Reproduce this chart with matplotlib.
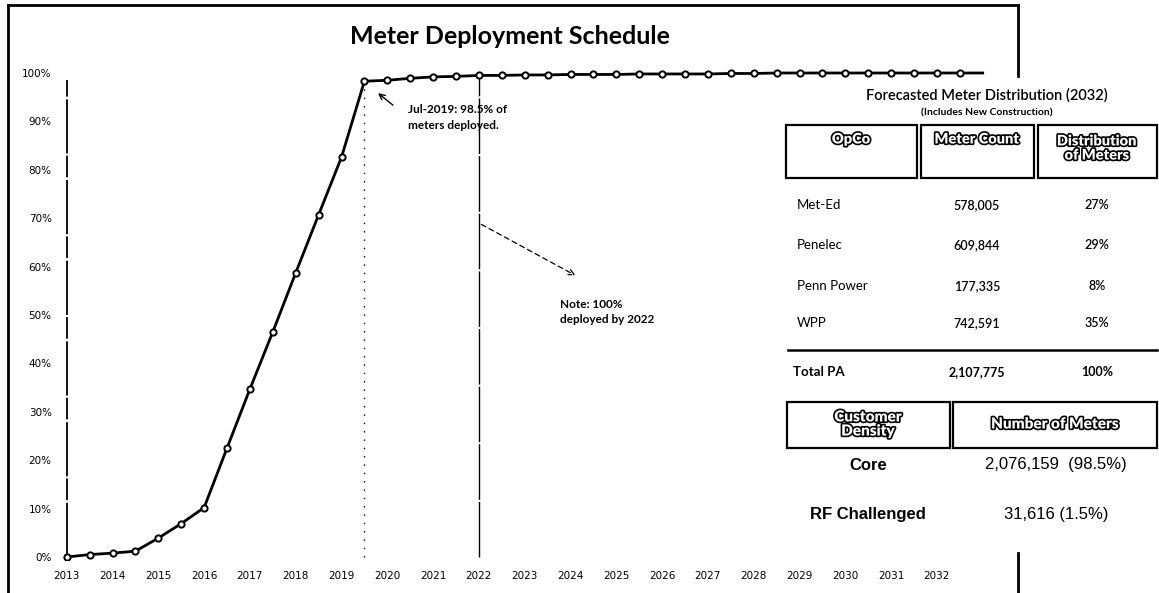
import numpy as np
import matplotlib
matplotlib.use("Agg")
import matplotlib.pyplot as plt
import matplotlib.patheffects as pe
from matplotlib.patches import Rectangle
from matplotlib.lines import Line2D

# ---------------- data ----------------
years = [2013.0, 2013.5, 2014.0, 2014.5, 2015.0, 2015.5, 2016.0, 2016.5, 2017.0, 2017.5,
         2018.0, 2018.5, 2019.0, 2019.5, 2020.0, 2020.5, 2021.0, 2021.5, 2022.0, 2022.5,
         2023.0, 2023.5, 2024.0, 2024.5, 2025.0, 2025.5, 2026.0, 2026.5, 2027.0, 2027.5,
         2028.0, 2028.5, 2029.0, 2029.5, 2030.0, 2030.5, 2031.0, 2031.5, 2032.0, 2032.5,
         2033.0]
deployed_pct = [0.0, 0.5, 0.8, 1.2, 3.9, 6.9, 10.2, 22.5, 34.7, 46.5,
                58.7, 70.7, 82.6, 98.3, 98.5, 98.9, 99.2, 99.3, 99.5, 99.5,
                99.6, 99.6, 99.7, 99.7, 99.7, 99.8, 99.8, 99.8, 99.8, 99.9,
                99.9, 100.0, 100.0, 100.0, 100.0, 100.0, 100.0, 100.0, 100.0, 100.0,
                100.0]
xtick_labels = [str(y) for y in range(2013, 2033)]
ytick_values = list(range(0, 101, 10))

opco = ["Met-Ed", "Penelec", "Penn Power", "WPP"]
meter_count = ["578,005", "609,844", "177,335", "742,591"]
distribution = ["27%", "29%", "8%", "35%"]
total_label, total_count, total_dist = "Total PA", "2,107,775", "100%"
density_cat = ["Core", "RF Challenged"]
density_meters = ["2,076,159  (98.5%)", "31,616 (1.5%)"]

# ---------------- figure ----------------
W, H = 1159, 593
fig = plt.figure(figsize=(W / 100, H / 100), dpi=100)
fig.patch.set_facecolor("white")

def fx(px):
    return px / W

def fy(py):
    return 1 - py / H

CAL = ["Lato", "DejaVu Sans"]
ARI = ["Liberation Sans", "DejaVu Sans"]

# axes: px 60..1010 horizontally, px 60..560 vertically
ax_l, ax_r, ax_t, ax_b = 60, 1010, 60, 560
ax = fig.add_axes([fx(ax_l), fy(ax_b), (ax_r - ax_l) / W, (ax_b - ax_t) / H])
ppy = 45.8          # px per year
ppp = 4.84          # px per percent
x0 = 2013 - (66.7 - ax_l) / ppy
x1 = 2013 + (ax_r - 66.7) / ppy
y0 = -(ax_b - 557) / ppp
y1 = (557 - ax_t) / ppp
ax.set_xlim(x0, x1)
ax.set_ylim(y0, y1)
for s in ax.spines.values():
    s.set_visible(False)

ax.set_xticks(list(range(2013, 2033)))
ax.set_xticklabels(xtick_labels, fontsize=7.5, family="DejaVu Sans")
ax.set_yticks(ytick_values)
ax.set_yticklabels([f"{v}%" for v in ytick_values], fontsize=7.5, family="DejaVu Sans")
ax.tick_params(axis="x", length=0, pad=8)
ax.tick_params(axis="y", length=0, pad=6)

# y-axis broken line
ax.plot([2013, 2013], [0, 98.5], color="black", lw=1.3, dashes=(30, 1.5, 12, 1.2))
# Jul-2019 dotted line
ax.plot([2019.5, 2019.5], [0, 97.0], color="black", lw=1.0, dashes=(1, 5))
# 2022 line
ax.plot([2022, 2022], [0, 99.0], color="black", lw=1.0, dashes=(40, 1.5))

# main series
ax.plot(years, deployed_pct, color="black", lw=2.0, marker="o", markersize=4.5,
        markerfacecolor="white", markeredgecolor="black", markeredgewidth=1.4,
        markevery=slice(0, len(years) - 1), zorder=5)

# annotations
ax.annotate("", xy=(2019.75, 96.2), xytext=(2020.17, 93.0),
            arrowprops=dict(arrowstyle="->", color="black", lw=1.0))
ax.text(2020.45, 90.8, "Jul-2019: 98.5% of\nmeters deployed.", fontsize=8.5,
        family=CAL, fontweight="bold", ha="left", va="center", linespacing=1.5)
ax.annotate("", xy=(2024.16, 57.9), xytext=(2022, 69.0),
            arrowprops=dict(arrowstyle="->", color="black", lw=0.9, linestyle=(0, (4, 3))))
ax.text(2023.77, 50.6, "Note: 100%\ndeployed by 2022", fontsize=8.5,
        family=CAL, fontweight="bold", ha="left", va="center", linespacing=1.5)

# title
fig.text(fx(510), fy(36), "Meter Deployment Schedule", fontsize=18, family=CAL,
         fontweight="bold", ha="center", va="center")

# frame lines
def fig_line(xs, ys, lw=2.0):
    fig.add_artist(Line2D([fx(v) for v in xs], [fy(v) for v in ys],
                          color="black", lw=lw, transform=fig.transFigure))

fig_line([8, 1018], [5, 5])
fig_line([8, 8], [5, 593])
fig_line([1018, 1018], [5, 76])
fig_line([1018, 1018], [553, 593])

# ---------------- table ----------------
fig.text(fx(987), fy(95), "Forecasted Meter Distribution (2032)", fontsize=10.5,
         family=CAL, ha="center", va="center", fontweight="semibold")
fig.text(fx(987), fy(113), "(Includes New Construction)", fontsize=7.5,
         family=CAL, ha="center", va="center", fontweight="bold")

outline = [pe.withStroke(linewidth=2.4, foreground="black")]

def box(xl, xr, yt, yb):
    fig.add_artist(Rectangle((fx(xl), fy(yb)), fx(xr) - fx(xl), fy(yt) - fy(yb),
                             transform=fig.transFigure, fill=False,
                             edgecolor="black", lw=1.6))

def htext(x, y, s, size=10.5):
    fig.text(fx(x), fy(y), s, fontsize=size, family=CAL, fontweight="heavy",
             color="white", ha="center", va="center", linespacing=1.1,
             path_effects=outline)

box(786, 917, 125, 178)
box(921, 1034, 125, 178)
box(1038, 1157, 125, 178)
htext(851, 139, "OpCo")
htext(977, 139, "Meter Count")
htext(1097, 148, "Distribution\nof Meters")

col_x = [797, 977, 1097]
row_y = [205, 245, 286, 323]
for i in range(len(opco)):
    fig.text(fx(col_x[0]), fy(row_y[i]), opco[i], fontsize=9.5, family=CAL,
             ha="left", va="center")
    fig.text(fx(col_x[1]), fy(row_y[i]), meter_count[i], fontsize=9, family=CAL,
             ha="center", va="center", fontweight="semibold")
    fig.text(fx(col_x[2]), fy(row_y[i]), distribution[i], fontsize=9, family=CAL,
             ha="center", va="center", fontweight="semibold")

fig_line([788, 1157], [350, 350], lw=1.8)
fig.text(fx(col_x[0] - 4), fy(372), total_label, fontsize=9.5, family=CAL, ha="left",
         va="center", fontweight="bold")
fig.text(fx(col_x[1]), fy(372), total_count, fontsize=9, family=CAL,
         ha="center", va="center", fontweight="bold")
fig.text(fx(col_x[2]), fy(372), total_dist, fontsize=9, family=CAL,
         ha="center", va="center", fontweight="bold")

box(787, 950, 402, 448)
box(953, 1157, 402, 448)
htext(868, 424, "Customer\nDensity", size=11)
htext(1055, 424, "Number of Meters", size=11)

dens_y = [465, 515]
for i in range(len(density_cat)):
    fig.text(fx(868), fy(dens_y[i]), density_cat[i], fontsize=12, family=ARI,
             fontweight="bold", ha="center", va="center")
    fig.text(fx(1056), fy(dens_y[i]), density_meters[i], fontsize=12, family=ARI,
             ha="center", va="center")

fig.savefig("out.png", dpi=100, facecolor="white")
